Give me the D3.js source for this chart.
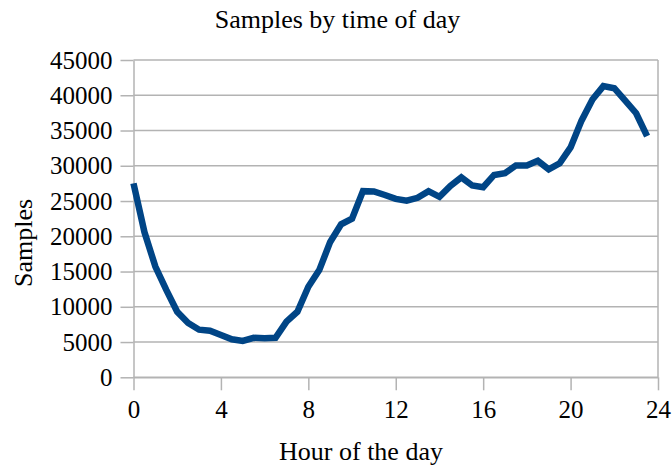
<!DOCTYPE html>
<html>
<head>
<meta charset="utf-8">
<style>
    body { margin: 0; background: #fff; }
    svg { display: block; font-family: "Liberation Serif", "Times New Roman", serif; }
    .axis .domain { stroke: #b3b3b3; stroke-width: 1.5; }
    .axis .tick line { stroke: #b3b3b3; stroke-width: 1.5; }
    .grid line { stroke: #b3b3b3; stroke-width: 1.5; }
</style>
</head>
<body>
<svg width="672" height="466"></svg>
<script src="https://d3js.org/d3.v7.min.js"></script>
<script>
// half-hour bins, 0 .. 23.5
let hours = d3.range(0, 24, 0.5)
let samples = [
    27500, 20600, 15700, 12400, 9300, 7700, 6750, 6600, 6000, 5400,
    5150, 5600, 5550, 5600, 7900, 9300, 12850, 15200, 19200, 21700,
    22500, 26400, 26350, 25850, 25300, 25050, 25450, 26400, 25600, 27150,
    28350, 27200, 26950, 28700, 28950, 30050, 30050, 30700, 29500, 30350,
    32600, 36400, 39400, 41300, 41000, 39250, 37450, 34200
]
let xTicks = [0, 4, 8, 12, 16, 20, 24]
let yTicks = d3.range(0, 45001, 5000)

let data = hours.map((h, i) => ({ h: h, v: samples[i] }))

let svg = d3.select("svg")
let margin = { top: 60, right: 14, bottom: 88.7, left: 133.5 }
let width = 672, height = 466

let x = d3.scaleLinear()
    .domain([0, 24])
    .range([margin.left, width - margin.right])

let y = d3.scaleLinear()
    .domain([0, 45000])
    .range([height - margin.bottom, margin.top])

// horizontal gridlines
svg.append("g")
    .attr("class", "grid")
    .selectAll("line")
    .data(yTicks)
    .join("line")
    .attr("x1", x(0))
    .attr("x2", x(24))
    .attr("y1", d => y(d))
    .attr("y2", d => y(d))

// right edge of the plot area
svg.append("line")
    .attr("x1", x(24)).attr("x2", x(24))
    .attr("y1", y(45000)).attr("y2", y(0))
    .style("stroke", "#b3b3b3")
    .style("stroke-width", 1.5)

let yAxis = svg.append("g")
    .attr("class", "y axis")
    .attr("transform", `translate(${x(0)},0)`)
    .call(d3.axisLeft(y).tickValues(yTicks).tickFormat(d3.format("d"))
        .tickSize(13).tickSizeOuter(0).tickPadding(8))

let xAxis = svg.append("g")
    .attr("class", "x axis")
    .attr("transform", `translate(0,${y(0)})`)
    .call(d3.axisBottom(x).tickValues(xTicks).tickFormat(d3.format("d"))
        .tickSize(13).tickSizeOuter(0).tickPadding(10))

svg.selectAll(".axis").attr("font-family", null).attr("font-size", null)
svg.selectAll(".axis .tick text")
    .style("font-family", "'Liberation Serif', serif")
    .style("font-size", "25px")
    .style("fill", "#000")

let line = d3.line()
    .x(d => x(d.h))
    .y(d => y(d.v))

svg.append("path")
    .datum(data)
    .attr("d", line)
    .style("fill", "none")
    .style("stroke", "#004586")
    .style("stroke-width", 6.5)
    .style("stroke-linejoin", "miter")

svg.append("text")
    .attr("x", 337.5)
    .attr("y", 28)
    .style("text-anchor", "middle")
    .style("font-size", "26px")
    .text("Samples by time of day")

svg.append("text")
    .attr("x", 361)
    .attr("y", 460)
    .style("text-anchor", "middle")
    .style("font-size", "26px")
    .text("Hour of the day")

svg.append("text")
    .attr("transform", "translate(32,243) rotate(-90)")
    .style("text-anchor", "middle")
    .style("font-size", "26px")
    .text("Samples")
</script>
</body>
</html>
